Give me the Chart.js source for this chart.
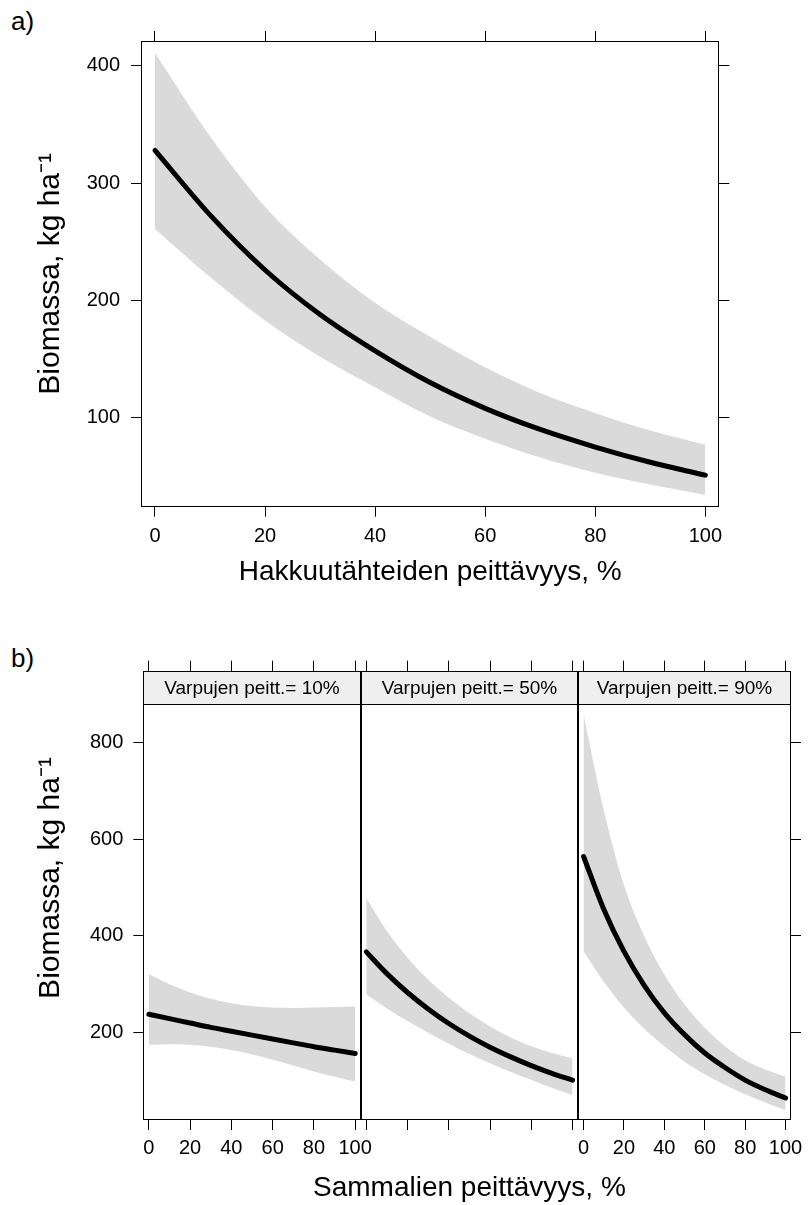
<!DOCTYPE html>
<html><head><meta charset="utf-8">
<script src="https://cdn.jsdelivr.net/npm/chart.js@4.4.1/dist/chart.umd.min.js"></script>
<style>
html,body{margin:0;padding:0;background:#fff;}
body{width:809px;height:1205px;position:relative;overflow:hidden;font-family:"Liberation Sans",Arial,sans-serif;}
canvas{position:absolute;left:0;top:0;}
.lab{position:absolute;font-size:26px;line-height:26px;color:#000;}
</style></head><body>
<div class="lab" style="left:11px;top:8px">a)</div>
<div class="lab" style="left:11px;top:645px">b)</div>
<canvas id="ca" width="809" height="1205"></canvas>
<canvas id="cb1" width="809" height="1205"></canvas>
<canvas id="cb2" width="809" height="1205"></canvas>
<canvas id="cb3" width="809" height="1205"></canvas>
<canvas id="cbt" width="809" height="1205"></canvas>
<script>
// ---- data ----
const xPct = [0,10,20,30,40,50,60,70,80,90,100];
const aFit   = [328,273,226,188,157,130,108,90,75,62,51];
const aUpper = [411,340,280,235,198,169,143,121,104,89,77];
const aLower = [261,220,183,152,126,101,82,66,53,43,34];

const stripLabels = ['Varpujen peitt.= 10%','Varpujen peitt.= 50%','Varpujen peitt.= 90%'];
const b10Fit   = [238,229,220,211,203,195,187,179,171,164,157];
const b10Upper = [321,300,283,270,261,255,252,251,252,253,254];
const b10Lower = [175,176,175,171,164,155,144,132,120,109,99];
const b50Fit   = [367,322,283,249,219,193,170,150,132,116,102];
const b50Upper = [478,410,355,310,272,240,213,190,172,158,147];
const b50Lower = [279,250,224,200,177,156,137,119,103,86,71];
const b90Fit   = [564,455,368,298,241,196,158,128,102,82,65];
const b90Upper = [857,660,505,400,320,258,210,172,143,124,109];
const b90Lower = [368,305,252,208,172,140,114,92,73,56,40];

const xTicks  = [0,20,40,60,80,100];
const aYTicks = [100,200,300,400];
const bYTicks = [200,400,600,800];

const titleA_x = 'Hakkuutähteiden peittävyys, %';
const titleB_x = 'Sammalien peittävyys, %';
const titleY   = 'Biomassa, kg ha\u207B\u00B9';

// ---- helpers ----
const FONT = '"Liberation Sans", Arial, sans-serif';
const BAND = 'rgb(218,218,218)';
const TICKFONT = 20;
const pts = (ys) => xPct.map((x,i) => ({x:x, y:ys[i]}));
const setTicks = (vals) => (scale) => { scale.ticks = vals.map(v => ({value:v})); };
const fixSize = (n) => (scale) => { if (scale.isHorizontal()) scale.height = n; else scale.width = n; };

function datasets(fit, up, lo){
  return [
    {data: pts(fit), borderColor:'#000', borderWidth:5, borderCapStyle:'round', borderJoinStyle:'round', pointRadius:0, fill:false, cubicInterpolationMode:'monotone'},
    {data: pts(up), borderWidth:0, borderColor:'rgba(0,0,0,0)', backgroundColor:BAND, pointRadius:0, fill:'+1', cubicInterpolationMode:'monotone'},
    {data: pts(lo), borderWidth:0, borderColor:'rgba(0,0,0,0)', backgroundColor:BAND, pointRadius:0, fill:false, cubicInterpolationMode:'monotone'}
  ];
}

function xAxis(o){
  return {
    type:'linear', position:o.pos, min:o.min, max:o.max, display:true,
    afterBuildTicks:setTicks(xTicks), afterFit:fixSize(o.size),
    grid:{display:o.grid !== false, drawOnChartArea:false, drawTicks:true, tickLength:10, color:'#000', lineWidth:1},
    border:{display:false},
    ticks:{display:o.labels, color:'#000', font:{family:FONT, size:TICKFONT}, padding:o.pad, maxRotation:0, autoSkip:false},
    title:{display:!!o.title, text:o.title||'', color:'#000', font:{family:FONT, size:28}, padding:0}
  };
}
function yAxis(o){
  return {
    type:'linear', position:o.pos, min:o.min, max:o.max, display:o.display,
    afterBuildTicks:setTicks(o.ticks), afterFit:fixSize(o.size),
    grid:{display:o.grid !== false, drawOnChartArea:false, drawTicks:true, tickLength:10, color:'#000', lineWidth:1},
    border:{display:false},
    ticks:{display:o.labels, color:'#000', font:{family:FONT, size:TICKFONT}, padding:o.pad},
    title:{display:!!o.title, text:o.title||'', color:'#000', font:{family:FONT, size:30}, padding:0}
  };
}

const framePlugin = {
  id:'frame',
  afterDatasetsDraw(chart, args, opts){
    if (opts.none) return;
    const {ctx, chartArea:a} = chart;
    const L = Math.round(a.left)+0.5, R = Math.round(a.right)-0.5, T = Math.round(a.top)+0.5, B = Math.round(a.bottom)-0.5;
    ctx.save();
    if (opts.strip){
      const sb = Math.round(chart.scales.y.getPixelForValue(opts.stripValue))+0.5;
      ctx.fillStyle = '#efefef';
      ctx.fillRect(L, T, R-L, sb-T);
      ctx.strokeStyle = '#000'; ctx.lineWidth = 1;
      ctx.beginPath(); ctx.moveTo(L, sb); ctx.lineTo(R, sb); ctx.stroke();
      ctx.fillStyle = '#000';
      ctx.font = '19px ' + FONT;
      ctx.textAlign = 'center'; ctx.textBaseline = 'middle';
      ctx.fillText(opts.strip, (L+R)/2, (T+sb)/2 + 0.5);
    }
    ctx.strokeStyle = '#000'; ctx.lineWidth = 1;
    ctx.strokeRect(L, T, R-L, B-T);
    ctx.restore();
  }
};

const common = {
  responsive:false, animation:false, devicePixelRatio:1,
  elements:{point:{radius:0}}
};

// ---- panel a ----
new Chart(document.getElementById('ca'), {
  type:'line',
  data:{datasets: datasets(aFit, aUpper, aLower)},
  plugins:[framePlugin],
  options:Object.assign({}, common, {
    layout:{padding:{left:33, top:31, right:79.7, bottom:616.2}},
    plugins:{legend:{display:false}, tooltip:{enabled:false}, frame:{}},
    scales:{
      x: xAxis({pos:'bottom', min:-2.54, max:102.54, size:82.1, labels:true, pad:8, title:titleA_x}),
      x2: xAxis({pos:'top', min:-2.54, max:102.54, size:10, labels:false, pad:0}),
      y: yAxis({pos:'left', min:24.1, max:421.3, ticks:aYTicks, size:108, labels:true, pad:11, display:true, title:titleY}),
      y2: yAxis({pos:'right', min:24.1, max:421.3, ticks:aYTicks, size:10, labels:false, pad:0, display:true})
    }
  })
});

// ---- panel b ----
const bMin = 19.6, bMax = 947.9, stripValue = 879.1;
const bPanels = [
  {id:'cb1', fit:b10Fit, up:b10Upper, lo:b10Lower, left:33, right:448.3, yW:110.3, first:true},
  {id:'cb2', fit:b50Fit, up:b50Upper, lo:b50Lower, left:360.7, right:230.9, mid:true},
  {id:'cb3', fit:b90Fit, up:b90Upper, lo:b90Lower, left:578.1, right:3.5, last:true}
];
bPanels.forEach((p, i) => {
  const scales = {
    x: xAxis({pos:'bottom', min:-2.7, max:102.7, size:85, labels:!p.mid, pad:6.3}),
    x2: xAxis({pos:'top', min:-2.7, max:102.7, size:10, labels:!!p.mid, pad:4.7}),
    y: yAxis({pos:'left', min:bMin, max:bMax, ticks:bYTicks, size:p.first ? p.yW : 0, labels:true, pad:10, display:!!p.first})
  };
  if (p.last) scales.y2 = yAxis({pos:'right', min:bMin, max:bMax, ticks:bYTicks, size:10, labels:false, pad:0, display:true});
  new Chart(document.getElementById(p.id), {
    type:'line',
    data:{datasets: datasets(p.fit, p.up, p.lo)},
    plugins:[framePlugin],
    options:Object.assign({}, common, {
      layout:{padding:{left:p.left, top:660.7, right:p.right, bottom:0}},
      plugins:{legend:{display:false}, tooltip:{enabled:false}, frame:{strip:stripLabels[i], stripValue:stripValue}},
      scales:scales
    })
  });
});

// shared axis titles of panel b (spanning all three panels)
new Chart(document.getElementById('cbt'), {
  type:'line',
  data:{datasets:[]},
  plugins:[framePlugin],
  options:Object.assign({}, common, {
    layout:{padding:{left:33, top:636, right:13.5, bottom:0}},
    plugins:{legend:{display:false}, tooltip:{enabled:false}, frame:{none:true}},
    scales:{
      x: xAxis({pos:'bottom', min:0, max:100, size:85, labels:false, pad:0, grid:false, title:titleB_x}),
      y: yAxis({pos:'left', min:bMin, max:bMax, ticks:bYTicks, size:110.3, labels:false, pad:0, display:true, grid:false, title:titleY})
    }
  })
});
</script>
</body></html>
